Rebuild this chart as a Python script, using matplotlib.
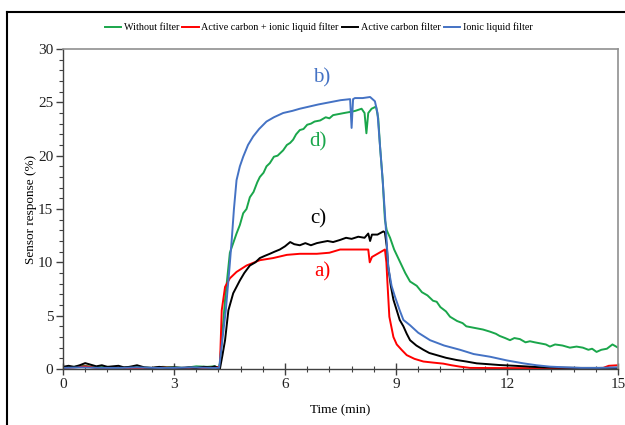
import matplotlib
matplotlib.use("Agg")
import matplotlib.pyplot as plt
from matplotlib.ticker import MultipleLocator
from matplotlib.lines import Line2D

plt.rcParams['font.family'] = ['Liberation Serif', 'DejaVu Serif']

# ---------------- data ----------------
t_green = [0, 0.3, 0.6, 0.9, 1.2, 1.5, 1.8, 2.1, 2.4, 2.7, 3.0, 3.3, 3.6, 3.9, 4.1, 4.2,
           4.24, 4.38, 4.51, 4.6, 4.69, 4.78, 4.87, 4.96, 5.05, 5.15, 5.25, 5.32, 5.42, 5.5,
           5.59, 5.7, 5.8, 5.95, 6.05, 6.14, 6.22, 6.3, 6.4, 6.5, 6.6, 6.7, 6.8, 6.95, 7.1,
           7.2, 7.3, 7.45, 7.6, 7.76, 7.9, 8.07, 8.15, 8.2, 8.25, 8.34, 8.46, 8.52, 8.57,
           8.64, 8.7, 8.75, 8.84, 8.95, 9.1, 9.25, 9.38, 9.47, 9.56, 9.7, 9.85, 10.0, 10.1,
           10.2, 10.35, 10.46, 10.65, 10.8, 10.9, 11.05, 11.2, 11.35, 11.54, 11.7, 11.8,
           11.95, 12.08, 12.2, 12.35, 12.5, 12.62, 12.75, 12.9, 13.05, 13.16, 13.3, 13.5,
           13.7, 13.88, 14.05, 14.2, 14.3, 14.42, 14.55, 14.7, 14.85, 15.0]
v_green = [0.15, 0.2, 0.3, 0.15, 0.2, 0.1, 0.2, 0.15, 0.1, 0.2, 0.15, 0.1, 0.25, 0.2, 0.25, 0.1,
           0.5, 6.5, 10.9, 11.8, 12.7, 13.5, 14.6, 15.0, 16.1, 16.6, 17.5, 18.0, 18.4, 19.0,
           19.3, 19.9, 20.0, 20.5, 21.0, 21.2, 21.5, 22.0, 22.4, 22.5, 22.9, 23.0, 23.2, 23.3, 23.6,
           23.5, 23.8, 23.9, 24.0, 24.1, 24.2, 24.4, 24.0, 22.1, 24.0, 24.4, 24.6, 23.5, 20.8,
           17.7, 14.0, 13.0, 12.3, 11.2, 10.1, 9.0, 8.2, 8.0, 7.8, 7.2, 6.9, 6.4, 6.3,
           5.8, 5.4, 4.9, 4.5, 4.3, 4.0, 3.9, 3.8, 3.7, 3.5, 3.3, 3.1,
           2.9, 2.7, 2.9, 2.8, 2.5, 2.6, 2.5, 2.4, 2.3, 2.1, 2.3, 2.2,
           2.0, 2.1, 2.0, 1.8, 1.9, 1.6, 1.8, 1.9, 2.3, 2.0]

t_red = [0, 0.3, 0.6, 0.9, 1.2, 1.5, 1.8, 2.1, 2.4, 2.7, 3.0, 3.3, 3.6, 3.9, 4.24,
         4.29, 4.38, 4.51, 4.69, 4.96, 5.32, 5.68, 6.05, 6.4, 6.86, 7.2, 7.49, 7.9, 8.25,
         8.29, 8.35, 8.5, 8.7, 8.74, 8.77, 8.82, 8.93, 9.02, 9.15, 9.29, 9.5, 9.74, 10.0,
         10.28, 10.5, 10.73, 11.0, 12.0, 13.0, 14.0, 14.6, 14.75, 15.0]
v_red = [0.1, 0.15, 0.25, 0.1, 0.1, 0.15, 0.1, 0.1, 0.1, 0.15, 0.1, 0.1, 0.1, 0.1, 0.2,
         5.5, 7.7, 8.5, 9.1, 9.7, 10.2, 10.4, 10.7, 10.8, 10.8, 10.9, 11.2, 11.2, 11.2,
         10.0, 10.5, 10.8, 11.2, 10.0, 8.0, 4.9, 3.0, 2.3, 1.8, 1.3, 0.95, 0.7, 0.6,
         0.5, 0.35, 0.22, 0.1, 0.08, 0.08, 0.08, 0.1, 0.3, 0.35]

t_black = [0, 0.15, 0.3, 0.45, 0.6, 0.75, 0.9, 1.05, 1.2, 1.35, 1.5, 1.65, 1.8, 2.0, 2.2,
           2.4, 2.6, 2.8, 3.0, 3.2, 3.4, 3.6, 3.8, 4.0, 4.1, 4.24, 4.31, 4.38, 4.47, 4.6,
           4.78, 4.9, 5.05, 5.2, 5.32, 5.45, 5.59, 5.72, 5.86, 6.0, 6.14, 6.25, 6.4, 6.55,
           6.7, 6.86, 7.0, 7.15, 7.3, 7.49, 7.65, 7.8, 7.98, 8.15, 8.25, 8.3, 8.35, 8.5,
           8.66, 8.7, 8.75, 8.79, 8.86, 8.93, 9.02, 9.1, 9.2, 9.29, 9.38, 9.55, 9.74, 9.9,
           10.1, 10.35, 10.64, 10.9, 11.18, 11.5, 11.8, 12.2, 12.62, 13.0, 13.5, 14.0, 14.5, 15.0]
v_black = [0.2, 0.3, 0.2, 0.35, 0.55, 0.4, 0.25, 0.35, 0.2, 0.25, 0.3, 0.15, 0.2, 0.35, 0.15,
           0.1, 0.2, 0.1, 0.15, 0.1, 0.15, 0.1, 0.2, 0.15, 0.25, 0.0, 1.3, 2.7, 5.5, 7.1,
           8.3, 9.0, 9.7, 10.0, 10.4, 10.6, 10.8, 11.0, 11.2, 11.5, 11.9, 11.7, 11.6, 11.8,
           11.6, 11.8, 11.9, 12.0, 11.9, 12.1, 12.3, 12.2, 12.4, 12.3, 12.7, 12.0, 12.6, 12.6,
           12.9, 12.8, 11.5, 9.6, 7.8, 6.5, 5.5, 4.6, 4.0, 3.3, 2.7, 2.2, 1.8, 1.5,
           1.3, 1.05, 0.84, 0.7, 0.53, 0.45, 0.37, 0.3, 0.22, 0.15, 0.12, 0.1, 0.1, 0.1]

t_blue = [0, 0.5, 1.0, 1.5, 2.0, 2.5, 3.0, 3.5, 4.0, 4.22, 4.3, 4.4, 4.5, 4.56, 4.62, 4.69,
          4.78, 4.87, 5.0, 5.14, 5.3, 5.5, 5.7, 5.95, 6.2, 6.4, 6.65, 6.9, 7.2, 7.5, 7.76,
          7.8, 7.84, 7.89, 8.1, 8.3, 8.43, 8.5, 8.57, 8.64, 8.7, 8.79, 8.88, 8.97, 9.1,
          9.2, 9.38, 9.6, 9.92, 10.3, 10.73, 11.1, 11.54, 12.0, 12.44, 12.8, 13.16, 13.6,
          14.0, 14.5, 15.0]
v_blue = [0.1, 0.15, 0.1, 0.1, 0.15, 0.1, 0.1, 0.15, 0.1, 0.1, 2.5, 5.5, 9.5, 12.1, 15.0, 17.7,
          19.0, 19.9, 21.0, 21.8, 22.5, 23.2, 23.6, 24.0, 24.2, 24.4, 24.6, 24.8, 25.0, 25.2, 25.3,
          22.6, 25.3, 25.4, 25.4, 25.5, 25.1, 24.0, 20.8, 17.7, 14.6, 9.6, 7.8, 6.8, 5.5,
          4.6, 4.1, 3.4, 2.7, 2.2, 1.8, 1.4, 1.15, 0.8, 0.53, 0.35, 0.22, 0.15,
          0.1, 0.1, 0.15]

series_labels = ["Without filter", "Active carbon + ionic liquid filter",
                 "Active carbon filter", "Ionic liquid filter"]
series_colors = ["#1aa64b", "#ff0000", "#000000", "#4472c4"]
letter_labels = ["d)", "a)", "c)", "b)"]
letter_x = [6.9, 7.0, 6.9, 7.0]
letter_y = [21.3, 9.1, 14.1, 27.3]

x_ticks = [0, 3, 6, 9, 12, 15]
y_ticks = [0, 5, 10, 15, 20, 25, 30]

# ---------------- figure ----------------
fig = plt.figure(figsize=(6.25, 4.25), dpi=100)
ax = fig.add_axes([0.1008, 0.1318, 0.888, 0.7529])

data = [(t_green, v_green), (t_red, v_red), (t_black, v_black), (t_blue, v_blue)]
for (t, v), lab, col in zip(data, series_labels, series_colors):
    ax.plot(t, v, color=col, lw=1.4, label=lab)

for lab, x, y, col in zip(letter_labels, letter_x, letter_y, series_colors):
    ax.text(x, y, lab, color=col, fontsize=15, ha='center', va='center')

ax.set_xlim(0, 15)
ax.set_ylim(0, 30)
ax.set_xticks(x_ticks)
ax.set_yticks(y_ticks)
ax.xaxis.set_minor_locator(MultipleLocator(0.6))
ax.yaxis.set_minor_locator(MultipleLocator(1))
ax.tick_params(axis='x', which='major', direction='inout', length=9, width=1, colors='#404040',
               labelsize=11, labelcolor='#222222', pad=2)
ax.tick_params(axis='x', which='minor', direction='inout', length=5, width=0.8, colors='#404040')
ax.tick_params(axis='y', which='major', direction='out', length=5, width=1, colors='#404040',
               labelsize=11, labelcolor='#222222', pad=2)
ax.tick_params(axis='y', which='minor', direction='out', length=3, width=0.8, colors='#404040')

for s in ['left', 'bottom']:
    ax.spines[s].set_color('#404040')
    ax.spines[s].set_linewidth(1.0)
for s in ['top', 'right']:
    ax.spines[s].set_color('#909090')
    ax.spines[s].set_linewidth(1.2)

ax.set_xlabel("Time (min)", fontsize=9.5)
ax.set_ylabel("Sensor response (%)", fontsize=9.5)
ax.xaxis.set_label_coords(0.5, -0.109)
ax.yaxis.set_label_coords(-0.047, 0.5)

fig.legend(loc='center', bbox_to_anchor=(0.51, 0.936), ncol=4, frameon=False,
           fontsize=7.3, handlelength=1.6, handletextpad=0.25, columnspacing=0.35)

# outer frame lines (left and top)
fig.add_artist(Line2D([7/625, 7/625], [0, 1 - 12/425], color='black', lw=1.5,
                      transform=fig.transFigure))
fig.add_artist(Line2D([7/625, 1], [1 - 12/425, 1 - 12/425], color='black', lw=1.5,
                      transform=fig.transFigure))

fig.savefig("out.png", dpi=100)
